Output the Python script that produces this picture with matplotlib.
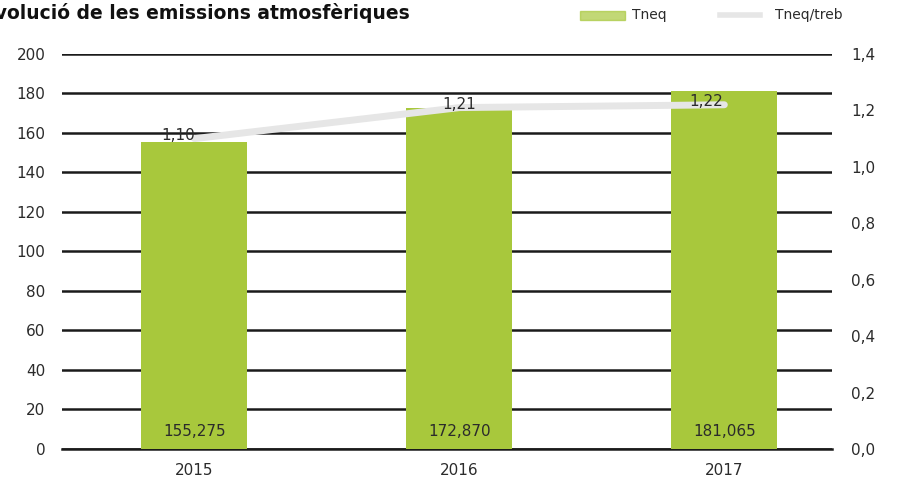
import matplotlib
matplotlib.use("Agg")
import matplotlib.pyplot as plt
from matplotlib.ticker import FuncFormatter, FixedLocator
from matplotlib.patches import Rectangle
from matplotlib.lines import Line2D

years = ["2015", "2016", "2017"]
tneq = [155.275, 172.870, 181.065]
tneq_labels = ["155,275", "172,870", "181,065"]
tneq_treb = [1.10, 1.21, 1.22]
tneq_treb_labels = ["1,10", "1,21", "1,22"]
left_ticks = [0, 20, 40, 60, 80, 100, 120, 140, 160, 180, 200]
right_ticks = [0.0, 0.2, 0.4, 0.6, 0.8, 1.0, 1.2, 1.4]

green = "#a8c83c"
linecol = "#e6e6e6"
txt = "#2b2b2b"

fig = plt.figure(figsize=(9.02, 4.82), dpi=100)
ax = fig.add_axes([0.0687, 0.0685, 0.8533, 0.8195])
ax2 = ax.twinx()

x = list(range(len(years)))
ax.set_axisbelow(True)
ax.bar(x, tneq, width=0.40, color=green, zorder=2)
ax.set_ylim(0, 200)
ax.set_xlim(-0.5, 2.405)
ax.yaxis.set_major_locator(FixedLocator(left_ticks))
ax.grid(axis="y", color="#1a1a1a", linewidth=1.8, zorder=0)
ax.axhline(0, color="#1a1a1a", linewidth=1.8, zorder=1, clip_on=False)
for xi, lab in zip(x, tneq_labels):
    ax.text(xi, 9, lab, ha="center", va="center", fontsize=11, color=txt, zorder=5)

ax2.plot(x, tneq_treb, color=linecol, linewidth=5, solid_capstyle="round", zorder=4)
ax2.set_ylim(0, 1.4)
ax2.yaxis.set_major_locator(FixedLocator(right_ticks))
ax2.yaxis.set_major_formatter(FuncFormatter(lambda v, p: f"{v:.1f}".replace(".", ",")))
offs = [-0.06, 0.0, -0.07]
for xi, v, lab, o in zip(x, tneq_treb, tneq_treb_labels, offs):
    ax2.text(xi + o, v + 0.01, lab, ha="center", va="center", fontsize=11, color=txt, zorder=6)

ax.set_xticks(x)
ax.set_xticklabels(years)
for a in (ax, ax2):
    for s in a.spines.values():
        s.set_visible(False)
    a.tick_params(length=0, labelsize=11, labelcolor=txt)
ax.tick_params(axis="y", pad=12)
ax2.tick_params(axis="y", pad=14)
ax.tick_params(axis="x", pad=10)

fig.text(-0.02, 0.993, "Evolució de les emissions atmosfèriques", ha="left", va="top",
         fontsize=13.5, fontweight="bold", color="#111111")

# legend
fig.patches.append(Rectangle((580/902, 1-20/482), 45/902, 9/482, transform=fig.transFigure,
                             color=green, alpha=0.7))
fig.text(632/902, 1-15/482, "Tneq", ha="left", va="center", fontsize=10, color=txt)
fig.lines.append(Line2D([720/902, 760/902], [1-15/482, 1-15/482], transform=fig.transFigure,
                        color=linecol, linewidth=4))
fig.text(775/902, 1-15/482, "Tneq/treb", ha="left", va="center", fontsize=10, color=txt)

fig.savefig("out.png", dpi=100)
